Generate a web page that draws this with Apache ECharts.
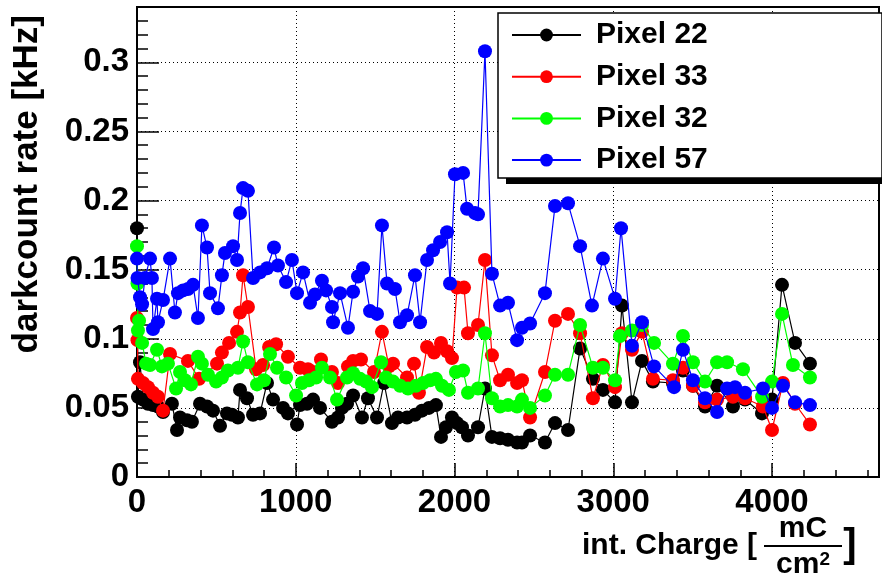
<!DOCTYPE html>
<html>
<head>
<meta charset="utf-8">
<script src="https://cdn.jsdelivr.net/npm/echarts@6/dist/echarts.min.js"></script>
<style>
  html, body { margin: 0; padding: 0; background: #fff; }
  #container { width: 882px; height: 583px; }
</style>
</head>
<body>
<div id="container"></div>
<script>
var dom = document.getElementById('container');
var myChart = echarts.init(dom, null, { renderer: 'canvas' });

// [int. charge (mC/cm^2), darkcount rate (kHz)]
const pixel22 = [
  [0, 0.180], [6, 0.058], [19, 0.083], [38, 0.056], [69, 0.053], [101, 0.052], [132, 0.051],
  [164, 0.047], [220, 0.053], [252, 0.034], [271, 0.043], [315, 0.041], [346, 0.040],
  [397, 0.053], [441, 0.051], [479, 0.048], [523, 0.037], [567, 0.046], [598, 0.045],
  [636, 0.043], [649, 0.063], [693, 0.057], [731, 0.045], [775, 0.046], [819, 0.068],
  [857, 0.056], [920, 0.050], [951, 0.046], [1008, 0.038], [1027, 0.052], [1071, 0.053],
  [1109, 0.056], [1153, 0.050], [1228, 0.040], [1266, 0.043], [1291, 0.050], [1323, 0.053],
  [1361, 0.059], [1417, 0.043], [1455, 0.057], [1512, 0.043], [1556, 0.068], [1606, 0.039],
  [1644, 0.043], [1701, 0.043], [1751, 0.045], [1795, 0.048], [1839, 0.050], [1883, 0.052],
  [1915, 0.029], [1946, 0.036], [1984, 0.043], [2016, 0.039], [2047, 0.036], [2085, 0.030],
  [2148, 0.036], [2192, 0.064], [2236, 0.029], [2287, 0.028], [2337, 0.027], [2394, 0.025],
  [2425, 0.025], [2476, 0.030], [2570, 0.025], [2633, 0.039], [2715, 0.034], [2791, 0.093],
  [2872, 0.071], [2935, 0.063], [3011, 0.054], [3055, 0.124], [3118, 0.054], [3181, 0.084],
  [3250, 0.069], [3376, 0.068], [3439, 0.077], [3502, 0.066], [3578, 0.051], [3654, 0.066],
  [3754, 0.051], [3830, 0.056], [3937, 0.046], [4000, 0.056], [4063, 0.139], [4145, 0.097],
  [4239, 0.082]
];
const pixel33 = [
  [0, 0.115], [3, 0.099], [6, 0.071], [38, 0.068], [69, 0.065], [101, 0.061], [132, 0.058],
  [164, 0.048], [208, 0.089], [321, 0.084], [391, 0.071], [504, 0.082], [535, 0.090],
  [580, 0.097], [630, 0.105], [649, 0.119], [668, 0.146], [699, 0.123], [750, 0.078],
  [794, 0.081], [832, 0.094], [876, 0.096], [951, 0.087], [1027, 0.079], [1077, 0.078],
  [1109, 0.076], [1159, 0.085], [1228, 0.076], [1266, 0.068], [1329, 0.080], [1361, 0.084],
  [1411, 0.085], [1493, 0.076], [1543, 0.105], [1587, 0.080], [1613, 0.082], [1701, 0.072],
  [1745, 0.082], [1776, 0.061], [1827, 0.094], [1871, 0.090], [1915, 0.097], [1953, 0.091],
  [1984, 0.086], [2016, 0.137], [2060, 0.137], [2085, 0.104], [2148, 0.110], [2192, 0.157],
  [2236, 0.088], [2287, 0.070], [2337, 0.074], [2394, 0.068], [2425, 0.070], [2476, 0.043],
  [2570, 0.076], [2633, 0.113], [2715, 0.118], [2791, 0.104], [2872, 0.057], [2935, 0.081],
  [3011, 0.065], [3055, 0.104], [3118, 0.092], [3181, 0.105], [3250, 0.071], [3376, 0.070],
  [3439, 0.079], [3502, 0.066], [3578, 0.054], [3654, 0.056], [3754, 0.058], [3830, 0.057],
  [3943, 0.051], [4000, 0.034], [4069, 0.068], [4145, 0.053], [4239, 0.038]
];
const pixel32 = [
  [0, 0.167], [3, 0.140], [6, 0.106], [13, 0.113], [32, 0.097], [57, 0.082], [82, 0.081],
  [126, 0.092], [157, 0.080], [195, 0.082], [246, 0.064], [271, 0.076], [302, 0.070],
  [340, 0.067], [384, 0.087], [409, 0.082], [447, 0.074], [498, 0.069], [535, 0.072],
  [573, 0.077], [636, 0.079], [668, 0.098], [699, 0.083], [756, 0.067], [800, 0.070],
  [838, 0.089], [882, 0.079], [939, 0.072], [1002, 0.059], [1039, 0.068], [1083, 0.070],
  [1128, 0.072], [1165, 0.079], [1216, 0.072], [1260, 0.056], [1323, 0.072], [1361, 0.075],
  [1405, 0.071], [1443, 0.069], [1480, 0.065], [1537, 0.083], [1568, 0.072], [1613, 0.069],
  [1657, 0.066], [1707, 0.064], [1757, 0.066], [1802, 0.068], [1846, 0.070], [1883, 0.071],
  [1921, 0.066], [1965, 0.063], [2009, 0.076], [2054, 0.077], [2085, 0.061], [2148, 0.064],
  [2192, 0.104], [2236, 0.057], [2287, 0.051], [2337, 0.052], [2394, 0.051], [2425, 0.056],
  [2476, 0.050], [2570, 0.059], [2633, 0.074], [2715, 0.074], [2791, 0.110], [2872, 0.079],
  [2935, 0.079], [3011, 0.070], [3042, 0.102], [3118, 0.106], [3181, 0.110], [3257, 0.097],
  [3376, 0.082], [3439, 0.102], [3502, 0.083], [3578, 0.069], [3654, 0.083], [3717, 0.083],
  [3817, 0.078], [3937, 0.058], [4000, 0.069], [4063, 0.118], [4132, 0.081], [4239, 0.072]
];
const pixel57 = [
  [0, 0.158], [3, 0.144], [19, 0.130], [32, 0.125], [50, 0.144], [82, 0.158], [94, 0.144],
  [101, 0.107], [126, 0.129], [132, 0.112], [164, 0.128], [208, 0.158], [239, 0.119],
  [258, 0.133], [290, 0.135], [321, 0.136], [353, 0.139], [384, 0.115], [409, 0.182],
  [441, 0.166], [460, 0.133], [510, 0.122], [535, 0.146], [554, 0.162], [605, 0.167],
  [630, 0.157], [649, 0.191], [668, 0.209], [699, 0.207], [731, 0.144], [775, 0.148],
  [819, 0.151], [863, 0.166], [888, 0.153], [939, 0.141], [976, 0.157], [1008, 0.133],
  [1046, 0.148], [1090, 0.126], [1121, 0.132], [1165, 0.142], [1191, 0.135], [1228, 0.123],
  [1235, 0.112], [1279, 0.133], [1329, 0.108], [1361, 0.134], [1392, 0.145], [1424, 0.151],
  [1468, 0.120], [1512, 0.118], [1543, 0.182], [1575, 0.140], [1625, 0.136], [1657, 0.112],
  [1701, 0.117], [1751, 0.146], [1783, 0.112], [1827, 0.157], [1865, 0.164], [1909, 0.170],
  [1953, 0.177], [1972, 0.140], [2003, 0.219], [2054, 0.220], [2079, 0.194], [2129, 0.191],
  [2148, 0.190], [2192, 0.308], [2236, 0.147], [2287, 0.124], [2337, 0.126], [2394, 0.099],
  [2425, 0.108], [2476, 0.111], [2570, 0.133], [2633, 0.196], [2715, 0.198], [2791, 0.167],
  [2866, 0.124], [2935, 0.158], [3011, 0.129], [3049, 0.180], [3118, 0.095], [3181, 0.112],
  [3257, 0.080], [3383, 0.065], [3439, 0.092], [3502, 0.070], [3578, 0.057], [3654, 0.047],
  [3717, 0.064], [3767, 0.065], [3830, 0.061], [3943, 0.064], [4000, 0.050], [4069, 0.066],
  [4145, 0.054], [4239, 0.052]
];

const seriesNames = ['Pixel 22', 'Pixel 33', 'Pixel 32', 'Pixel 57'];
const seriesData = [pixel22, pixel33, pixel32, pixel57];
const colors = ['#000000', '#ff0000', '#00ff00', '#0000ff'];

const xMax = 4674;
const yMax = 0.34;
const font = 'Liberation Sans, Arial, Helvetica, sans-serif';

option = {
  animation: false,
  grid: {
    left: 137, right: 3, top: 7, bottom: 106,
    show: true, borderColor: '#000', borderWidth: 2
  },
  xAxis: [{
    type: 'value', min: 0, max: xMax, interval: 1000,
    axisLine: { show: false },
    axisTick: { inside: true, length: 14, lineStyle: { color: '#000', width: 1.5 } },
    axisLabel: {
      margin: 9, color: '#000', fontFamily: font, fontWeight: 'bold', fontSize: 33,
      showMaxLabel: false,
      formatter: v => (v % 1000 === 0 ? String(v) : '')
    },
    splitLine: { show: true, lineStyle: { color: '#000', type: [1, 3], width: 1 } }
  }, {
    type: 'value', min: 0, max: xMax, interval: 200, position: 'bottom',
    axisLine: { show: false },
    axisTick: { inside: true, length: 7, lineStyle: { color: '#000', width: 1.5 } },
    axisLabel: { show: false },
    splitLine: { show: false }
  }],
  yAxis: [{
    type: 'value', min: 0, max: yMax, interval: 0.05,
    axisLine: { show: false },
    axisTick: { inside: true, length: 22, lineStyle: { color: '#000', width: 1.5 } },
    axisLabel: {
      margin: 8, color: '#000', fontFamily: font, fontWeight: 'bold', fontSize: 33,
      showMaxLabel: false,
      formatter: v => {
        const k = v / 0.05;
        return Math.abs(k - Math.round(k)) < 1e-6 ? String(+v.toFixed(2)) : '';
      }
    },
    splitLine: { show: true, lineStyle: { color: '#000', type: [1, 3], width: 1 } }
  }, {
    type: 'value', min: 0, max: yMax, interval: 0.01, position: 'left',
    axisLine: { show: false },
    axisTick: { inside: true, length: 11, lineStyle: { color: '#000', width: 1.5 } },
    axisLabel: { show: false },
    splitLine: { show: false }
  }],
  legend: {
    orient: 'vertical', left: 511, top: 20, z: 20, padding: 0,
    itemWidth: 69, itemHeight: 16, itemGap: 11.7,
    data: seriesNames,
    textStyle: {
      color: '#000', fontFamily: font, fontWeight: 'bold', fontSize: 30,
      lineHeight: 30, padding: [0, 0, 0, 10]
    }
  },
  graphic: [
    // legend box with shadow
    { type: 'rect', z: 15, shape: { x: 506, y: 19, width: 390, height: 165 }, style: { fill: '#000' } },
    { type: 'rect', z: 16, shape: { x: 498, y: 13, width: 384, height: 165 },
      style: { fill: '#fff', stroke: '#000', lineWidth: 1.5 } },
    // y title
    { type: 'text', z: 20, x: 27, y: 15, rotation: Math.PI / 2,
      style: { text: 'darkcount rate [kHz]', font: 'bold 35px ' + font, fill: '#000',
        align: 'right', verticalAlign: 'middle' } },
    // x title
    { type: 'text', z: 20, x: 757, y: 546,
      style: { text: 'int. Charge [', font: 'bold 30px ' + font, fill: '#000',
        align: 'right', verticalAlign: 'middle' } },
    { type: 'text', z: 20, x: 803, y: 529,
      style: { text: 'mC', font: 'bold 30px ' + font, fill: '#000',
        align: 'center', verticalAlign: 'middle' } },
    { type: 'line', z: 20, shape: { x1: 764, y1: 546, x2: 842, y2: 546 },
      style: { stroke: '#000', lineWidth: 2 } },
    { type: 'text', z: 20, x: 803, y: 565,
      style: { text: '{a|cm}{b|2}', align: 'center', verticalAlign: 'middle',
        rich: {
          a: { font: 'bold 30px ' + font, fill: '#000' },
          b: { font: 'bold 19px ' + font, fill: '#000', verticalAlign: 'top', padding: [0, 0, 10, 0] }
        } } },
    { type: 'text', z: 20, x: 850, y: 546,
      style: { text: ']', font: 'bold 40px ' + font, fill: '#000',
        align: 'center', verticalAlign: 'middle' } }
  ],
  series: seriesData.map((d, i) => ({
    name: seriesNames[i],
    type: 'line',
    xAxisIndex: 0,
    yAxisIndex: 0,
    data: d,
    symbol: 'circle',
    symbolSize: 14,
    showAllSymbol: true,
    z: 2 + i,
    itemStyle: { color: colors[i] },
    lineStyle: { color: colors[i], width: 1.2 }
  }))
};

myChart.setOption(option);
window.addEventListener('resize', myChart.resize);
</script>
</body>
</html>
